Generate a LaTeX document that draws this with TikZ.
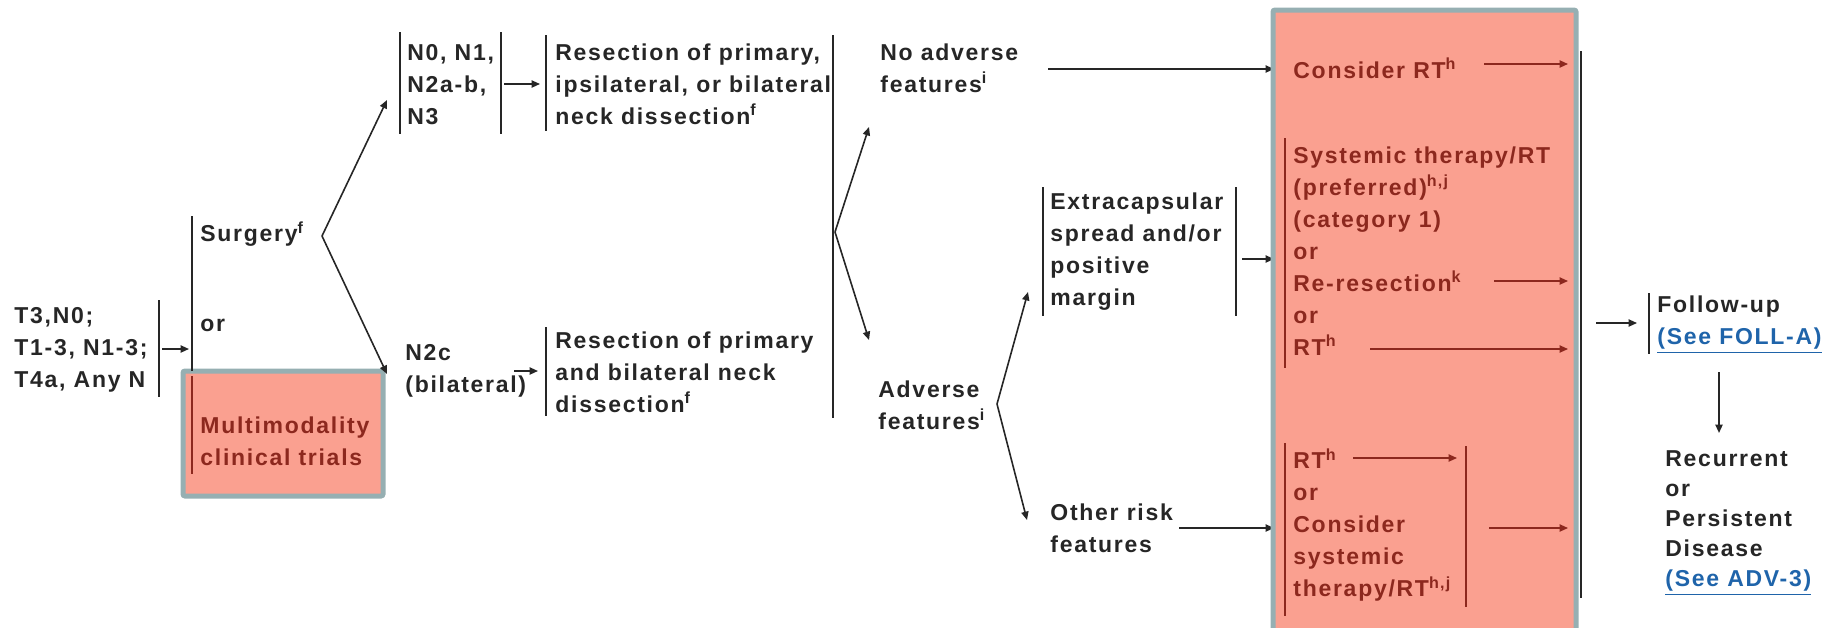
\documentclass[tikz,border=0pt]{standalone}
\usepackage{fontspec}
\newfontfamily\dfont{Liberation Sans}[LetterSpace=7.5]
\usetikzlibrary{arrows.meta}
\definecolor{tdark}{HTML}{262626}
\definecolor{bred}{HTML}{8C281E}
\definecolor{bfill}{HTML}{FAA090}
\definecolor{bedge}{HTML}{96AFB2}
\definecolor{lblue}{HTML}{1F64AA}
\newcommand{\spr}[1]{\textsuperscript{#1}}
\newcommand{\lnk}[1]{\textcolor{lblue}{\underline{#1}}}
\begin{document}
\begin{tikzpicture}[x=0.5pt,y=-0.5pt,
 txt/.style={font=\dfont\bfseries\fontsize{11.5}{16}\selectfont, text=tdark, align=left, anchor=west, inner sep=0pt},
 rtxt/.style={txt, text=bred},
 bar/.style={draw=tdark, line width=0.9pt},
 rbar/.style={draw=bred, line width=0.9pt},
 arr/.style={draw=tdark, line width=0.8pt, -{Triangle[length=4.2pt,width=3.6pt]}},
 rarr/.style={arr, draw=bred},
 fbox/.style={draw=bedge, line width=2.5pt, fill=bfill, rounded corners=1pt, inner sep=0pt, outer sep=0pt, anchor=north west}
]
\useasboundingbox (0,0) rectangle (1841,627);
% coordinates
\coordinate (tb1) at (159,300); \coordinate (tb2) at (159,397);
\coordinate (ta1) at (162,349); \coordinate (ta2) at (189,349);
\coordinate (sb1) at (192,216); \coordinate (sb2) at (192,371);
\coordinate (sb3) at (192,376); \coordinate (sb4) at (192,474);
\coordinate (sf) at (322,236); \coordinate (sfu) at (387,100); \coordinate (sfd) at (387,374);
\coordinate (nb1) at (400,32); \coordinate (nb2) at (400,134);
\coordinate (nb3) at (501,32); \coordinate (nb4) at (501,134);
\coordinate (na1) at (504,84); \coordinate (na2) at (540,84);
\coordinate (rb1) at (546,35); \coordinate (rb2) at (546,131);
\coordinate (ca1) at (514,371); \coordinate (ca2) at (538,371);
\coordinate (rb3) at (546,327); \coordinate (rb4) at (546,416);
\coordinate (bb1) at (833,35); \coordinate (bb2) at (833,418);
\coordinate (ff) at (835,232); \coordinate (ffu) at (869,127); \coordinate (ffd) at (869,340);
\coordinate (na) at (1048,69); \coordinate (naE) at (1274,69);
\coordinate (af) at (997,404); \coordinate (afu) at (1028,292); \coordinate (afd) at (1027,520);
\coordinate (eb1) at (1043,187); \coordinate (eb2) at (1043,316);
\coordinate (eb3) at (1236,187); \coordinate (eb4) at (1236,316);
\coordinate (ea) at (1242,259); \coordinate (eaE) at (1274,259);
\coordinate (oa) at (1179,528); \coordinate (oaE) at (1274,528);
% incoming lines (under the box border)
\draw[arr] (na) -- (naE);
\draw[arr] (ea) -- (eaE);
\draw[arr] (oa) -- (oaE);
% boxes
\node[fbox, minimum width=100pt, minimum height=62.5pt] (lbox) at (183,371) {};
\node[fbox, minimum width=151.5pt, minimum height=320pt] (rbox) at (1273,10) {};
% left part
\node[txt] (T) at (14,350) {T3,N0;\\T1-3, N1-3;\\T4a, Any N};
\node[txt] (surg) at (200,234) {Surgery\spr{f}};
\node[txt] (or1) at (200,325) {or};
\node[rtxt] (multi) at (200,441) {Multimodality\\clinical trials};
\draw[bar] (tb1) -- (tb2);
\draw[arr] (ta1) -- (ta2);
\draw[bar] (sb1) -- (sb2);
\draw[rbar] (sb3) -- (sb4);
\draw[arr] (sf) -- (sfu);
\draw[arr] (sf) -- (sfd);
% N groups
\node[txt] (n0) at (407,85) {N0, N1,\\N2a-b,\\N3};
\node[txt] (n2c) at (405,371) {N2c\\(bilateral)};
\draw[bar] (nb1) -- (nb2);
\draw[bar] (nb3) -- (nb4);
\draw[arr] (na1) -- (na2);
\draw[arr] (ca1) -- (ca2);
\node[txt] (res1) at (555,84) {Resection of primary,\\ipsilateral, or bilateral\\neck dissection\spr{f}};
\node[txt] (res2) at (555,372) {Resection of primary\\and bilateral neck\\dissection\spr{f}};
\draw[bar] (rb1) -- (rb2);
\draw[bar] (rb3) -- (rb4);
\draw[bar] (bb1) -- (bb2);
\draw[arr] (ff) -- (ffu);
\draw[arr] (ff) -- (ffd);
% features
\node[txt] (noadv) at (880,68) {No adverse\\features\spr{i}};
\node[txt] (adv) at (878,405) {Adverse\\features\spr{i}};
\draw[arr] (af) -- (afu);
\draw[arr] (af) -- (afd);
\node[txt] (extra) at (1050,252) {Extracapsular\\spread and/or\\positive\\margin};
\draw[bar] (eb1) -- (eb2);
\draw[bar] (eb3) -- (eb4);
\node[txt] (other) at (1050,528) {Other risk\\features};
% inside right box
\node[rtxt] (consider) at (1293,68) {Consider RT\spr{h}};
\node[rtxt] (sys) at (1293,251) {Systemic therapy/RT\\(preferred)\spr{h,j}\\(category 1)\\or\\Re-resection\spr{k}\\or\\RT\spr{h}};
\node[rtxt] (rt2) at (1293,525) {RT\spr{h}\\or\\Consider\\systemic\\therapy/RT\spr{h,j}};
\coordinate (c1) at (1484,64); \coordinate (c2) at (1568,64);
\coordinate (s1) at (1285,138); \coordinate (s2) at (1285,368);
\coordinate (r1) at (1494,281); \coordinate (r2) at (1568,281);
\coordinate (q1) at (1370,349); \coordinate (q2) at (1568,349);
\coordinate (g1) at (1285,443); \coordinate (g2) at (1285,616);
\coordinate (h1) at (1353,458); \coordinate (h2) at (1457,458);
\coordinate (g3) at (1466,446); \coordinate (g4) at (1466,607);
\coordinate (k1) at (1489,528); \coordinate (k2) at (1568,528);
\draw[rarr] (c1) -- (c2);
\draw[rbar] (s1) -- (s2);
\draw[rarr] (r1) -- (r2);
\draw[rarr] (q1) -- (q2);
\draw[rbar] (g1) -- (g2);
\draw[rarr] (h1) -- (h2);
\draw[rbar] (g3) -- (g4);
\draw[rarr] (k1) -- (k2);
% right part
\coordinate (v1) at (1581,51); \coordinate (v2) at (1581,598);
\coordinate (fa1) at (1596,323); \coordinate (fa2) at (1637,323);
\coordinate (fb1) at (1649,293); \coordinate (fb2) at (1649,354);
\coordinate (d1) at (1719,372); \coordinate (d2) at (1719,433);
\draw[bar] (v1) -- (v2);
\draw[arr] (fa1) -- (fa2);
\draw[bar] (fb1) -- (fb2);
\node[txt] (fu) at (1657,325) {Follow-up\\\lnk{(See FOLL-A)}};
\draw[arr] (d1) -- (d2);
\node[txt, font=\dfont\bfseries\fontsize{11.5}{15}\selectfont] (rec) at (1665,523) {Recurrent\\or\\Persistent\\Disease\\\lnk{(See ADV-3)}};
\end{tikzpicture}
\end{document}
